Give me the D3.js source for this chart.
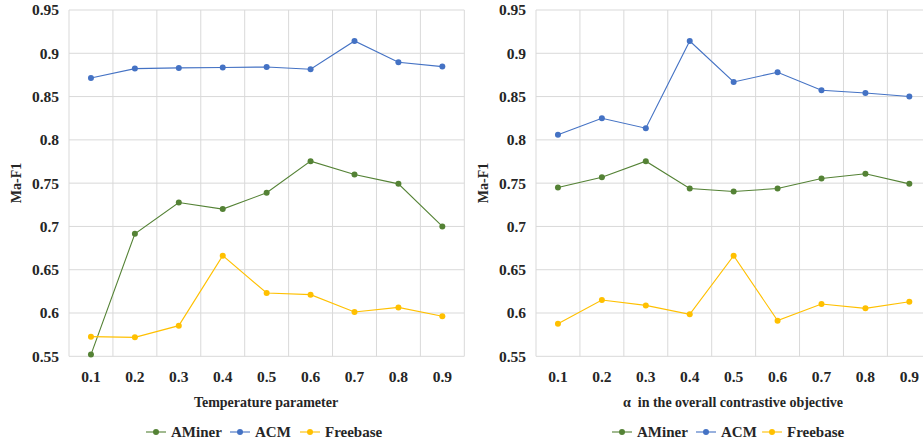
<!DOCTYPE html>
<html><head><meta charset="utf-8">
<script src="https://cdn.jsdelivr.net/npm/d3@7"></script>
<style>body{margin:0;background:#fff}svg{display:block}svg text{font-family:"Liberation Serif","Times New Roman",Times,serif;white-space:pre;}</style>
</head><body><svg id="c" width="923" height="445"></svg>
<script>
const categories = ["0.1","0.2","0.3","0.4","0.5","0.6","0.7","0.8","0.9"];
const yTicks = [0.55,0.6,0.65,0.7,0.75,0.8,0.85,0.9,0.95];
const seriesNames = ["AMiner","ACM","Freebase"];
const seriesColors = ["#548235","#4472C4","#FFC000"];
// Left panel: temperature parameter
const leftAMiner   = [0.552,0.6915,0.7277,0.7200,0.7389,0.7754,0.7600,0.7492,0.7000];
const leftACM      = [0.8715,0.8823,0.8831,0.8835,0.8842,0.8815,0.9142,0.8896,0.8846];
const leftFreebase = [0.5727,0.5719,0.5854,0.6662,0.6231,0.6212,0.6012,0.6065,0.5962];
// Right panel: alpha
const rightAMiner   = [0.7450,0.7569,0.7754,0.7438,0.7404,0.7438,0.7554,0.7608,0.7492];
const rightACM      = [0.8058,0.8250,0.8135,0.9142,0.8669,0.8781,0.8573,0.8542,0.8500];
const rightFreebase = [0.5877,0.6150,0.6088,0.5985,0.6662,0.5912,0.6104,0.6054,0.6131];

const svg = d3.select("#c");

function panel(x0, x1, xTitle, data, clipRight) {
  const g = svg.append("g");
  const x = d3.scaleBand().domain(categories).range([x0, x1]).padding(0);
  const y = d3.scaleLinear().domain([0.55, 0.95]).range([356.3, 10]);
  const right = Math.min(x1, clipRight);
  g.selectAll(".hg").data(yTicks).join("line")
    .attr("x1", x0).attr("x2", right)
    .attr("y1", d => y(d)).attr("y2", d => y(d))
    .attr("stroke", "#d9d9d9").attr("stroke-width", 1);
  const bounds = categories.map(c => x(c)).concat([x1]);
  g.selectAll(".vg").data(bounds.filter(b => b <= clipRight)).join("line")
    .attr("x1", d => d).attr("x2", d => d)
    .attr("y1", y(0.95)).attr("y2", y(0.55))
    .attr("stroke", "#d9d9d9").attr("stroke-width", 1);
  g.selectAll(".yl").data(yTicks).join("text")
    .attr("x", x0 - 10).attr("y", d => y(d)).attr("dy", "0.35em")
    .attr("text-anchor", "end")
    .style("font-size", "15.5px").style("font-weight", "bold").attr("fill", "#262626")
    .text(d => d3.format("")(d));
  g.selectAll(".xl").data(categories).join("text")
    .attr("x", d => x(d) + x.bandwidth()/2).attr("y", 377).attr("dy", "0.35em")
    .attr("text-anchor", "middle")
    .style("font-size", "15.5px").style("font-weight", "bold").attr("fill", "#262626")
    .text(d => d);
  g.append("text").attr("x", x0 + 197).attr("y", 402).attr("dy", "0.35em")
    .attr("text-anchor", "middle")
    .style("font-size", "14px").style("font-weight", "bold").attr("fill", "#262626")
    .text(xTitle);
  g.append("text").attr("transform", `translate(${x0 - 53},${183}) rotate(-90)`)
    .attr("dy", "0.35em").attr("text-anchor", "middle")
    .style("font-size", "14px").style("font-weight", "bold").attr("fill", "#262626")
    .text("Ma-F1");
  const line = d3.line().x((d, i) => x(categories[i]) + x.bandwidth()/2).y(d => y(d));
  data.forEach((vals, si) => {
    g.append("path").datum(vals).attr("d", line).attr("fill", "none")
      .attr("stroke", seriesColors[si]).attr("stroke-width", 1.1);
    g.selectAll(".pt" + si).data(vals).join("circle")
      .attr("cx", (d, i) => x(categories[i]) + x.bandwidth()/2).attr("cy", d => y(d))
      .attr("r", 3).attr("fill", seriesColors[si]);
  });
}

panel(69, 464.3, "Temperature parameter", [leftAMiner, leftACM, leftFreebase], 923);
panel(536, 931.3, "\u03b1  in the overall contrastive objective", [rightAMiner, rightACM, rightFreebase], 923);

function legend(starts) {
  const g = svg.append("g");
  seriesNames.forEach((n, i) => {
    const sx = starts[i];
    g.append("line").attr("x1", sx).attr("x2", sx + 20).attr("y1", 432).attr("y2", 432)
      .attr("stroke", seriesColors[i]).attr("stroke-width", 1.1);
    g.append("circle").attr("cx", sx + 10).attr("cy", 432).attr("r", 3).attr("fill", seriesColors[i]);
    g.append("text").attr("x", sx + 25).attr("y", 432).attr("dy", "0.35em")
      .style("font-size", "15px").style("font-weight", "bold")
      .attr("fill", "#262626").text(n);
  });
}
legend([146, 230, 300]);
legend([612, 696, 762]);
</script></body></html>
